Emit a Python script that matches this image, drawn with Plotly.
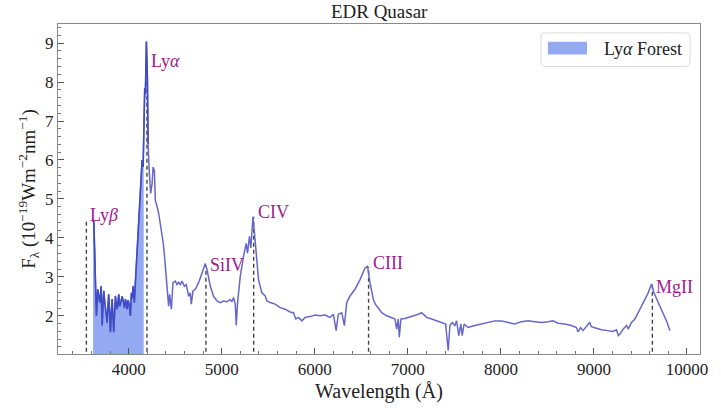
import plotly.graph_objects as go

# Observed-frame spectrum of the quasar (wavelength in Å, flux in 1e-19 W m^-2 nm^-1)
wavelength = [
    3617, 3625, 3643, 3653, 3667, 3680, 3689, 3704, 3715, 3724, 3732, 3741,
    3750, 3768, 3776, 3785, 3795, 3804, 3813, 3822, 3839, 3848, 3857, 3866,
    3876, 3893, 3902, 3911, 3920, 3929, 3946, 3955, 3965, 3983, 3992, 4000,
    4009, 4018, 4029, 4038, 4047, 4061, 4068, 4075, 4090, 4100, 4107, 4117,
    4126, 4136, 4144, 4155, 4161, 4172, 4179, 4190, 4201, 4208, 4222, 4236,
    4251, 4262, 4276, 4286, 4300, 4322, 4340, 4358, 4372, 4386, 4400, 4412,
    4429, 4440, 4458, 4476, 4501, 4519, 4537, 4555, 4573, 4598, 4619, 4644,
    4662, 4673, 4691, 4716, 4751, 4788, 4823, 4841, 4877, 4912, 4949, 4984,
    5019, 5056, 5091, 5109, 5127, 5145, 5156, 5170, 5199, 5234, 5263, 5277,
    5298, 5313, 5335, 5349, 5370, 5395, 5431, 5467, 5485, 5520, 5574, 5628,
    5681, 5735, 5770, 5796, 5824, 5861, 5896, 5950, 6003, 6057, 6111, 6164,
    6200, 6229, 6253, 6290, 6318, 6343, 6379, 6432, 6486, 6540, 6567, 6593,
    6629, 6650, 6683, 6719, 6773, 6826, 6862, 6880, 6897, 6908, 6926, 6969,
    7041, 7112, 7148, 7202, 7256, 7309, 7363, 7406, 7434, 7452, 7477, 7505,
    7524, 7548, 7570, 7584, 7605, 7648, 7720, 7792, 7863, 7935, 8007, 8077,
    8149, 8221, 8292, 8364, 8436, 8507, 8560, 8614, 8686, 8758, 8811, 8829,
    8857, 8882, 8919, 8954, 8972, 9026, 9080, 9150, 9200, 9243, 9262, 9279,
    9315, 9351, 9368, 9404, 9440, 9476, 9512, 9548, 9583, 9609, 9622, 9645,
    9691, 9727, 9763, 9787, 9816,
]
flux = [
    4.40, 4.46, 2.85, 2.00, 2.68, 2.45, 2.34, 2.76, 1.75, 2.30, 2.64, 2.40,
    2.17, 1.83, 2.20, 2.55, 2.05, 1.58, 2.10, 2.43, 1.58, 2.00, 2.51, 2.30,
    2.17, 2.55, 2.25, 2.30, 2.45, 2.50, 2.34, 2.20, 2.43, 2.17, 2.40, 2.34,
    2.20, 2.00, 2.59, 2.45, 2.76, 2.34, 2.70, 3.00, 3.75, 4.20, 4.63, 5.00,
    5.30, 5.70, 6.00, 5.82, 7.17, 7.85, 7.68, 9.04, 8.10, 6.41, 5.65, 5.14,
    5.39, 5.82, 5.73, 4.97, 4.85, 4.63, 4.35, 4.12, 3.85, 3.50, 3.02, 2.69,
    2.25, 2.55, 2.17, 2.85, 2.89, 2.80, 2.86, 2.80, 2.89, 2.76, 2.80, 2.50,
    2.59, 2.30, 2.64, 2.68, 2.85, 3.10, 3.34, 3.19, 2.76, 2.50, 2.38, 2.34,
    2.38, 2.36, 2.42, 2.36, 2.47, 2.30, 1.75, 2.34, 3.02, 3.53, 3.86, 3.61,
    4.04, 3.74, 4.54, 4.20, 3.53, 2.93, 2.59, 2.51, 2.38, 2.34, 2.30, 2.21,
    2.17, 2.10, 2.08, 1.92, 1.96, 1.87, 1.96, 1.98, 2.02, 2.00, 2.02, 1.96,
    2.04, 1.62, 2.04, 2.08, 1.75, 2.34, 2.51, 2.68, 2.93, 3.23, 3.27, 2.85,
    2.42, 2.30, 2.20, 2.08, 2.00, 1.96, 1.92, 1.66, 1.92, 1.45, 1.92, 1.93,
    1.98, 2.04, 2.08, 1.96, 1.92, 1.87, 1.83, 1.79, 1.11, 1.75, 1.83, 1.75,
    1.87, 1.49, 1.79, 1.49, 1.79, 1.70, 1.75, 1.79, 1.83, 1.87, 1.87, 1.83,
    1.79, 1.85, 1.87, 1.85, 1.83, 1.85, 1.87, 1.81, 1.79, 1.75, 1.70, 1.59,
    1.70, 1.62, 1.73, 1.83, 1.72, 1.68, 1.64, 1.62, 1.60, 1.64, 1.49, 1.53,
    1.66, 1.75, 1.66, 1.83, 1.92, 2.08, 2.25, 2.42, 2.59, 2.76, 2.81, 2.59,
    2.34, 2.13, 1.92, 1.83, 1.62,
]

# Lyman-alpha forest window (Å)
forest_range = [3617, 4161]
forest_label = "Ly<i>α</i> Forest"

# Emission lines: marker position and height of the dashed guide
line_names = ["Ly<i>β</i>", "Ly<i>α</i>", "SiIV", "CIV", "CIII", "MgII"]
line_wavelength = [3545, 4196, 4830, 5343, 6578, 9628]
line_top = [4.44, 8.44, 3.15, 4.54, 3.25, 2.81]
label_flux = [4.58, 8.54, 3.31, 4.66, 3.36, 2.75]

x_ticks = [4000, 5000, 6000, 7000, 8000, 9000, 10000]
y_ticks = [2, 3, 4, 5, 6, 7, 8, 9]

SERIF = "Liberation Serif"
TEXT = "#222222"
LINE_COLOR = "#6668c9"
FOREST_LINE = "#3d4bc6"
FOREST_FILL = "#93a9f2"
LABEL_COLOR = "#a0208f"

fig = go.Figure()

forest_x = [w for w in wavelength if forest_range[0] <= w <= forest_range[1]]
forest_y = [f for w, f in zip(wavelength, flux) if forest_range[0] <= w <= forest_range[1]]

# shaded forest region
fig.add_trace(go.Scatter(
    x=forest_x, y=forest_y, mode="lines", fill="tozeroy",
    fillcolor=FOREST_FILL, line=dict(width=0, color=FOREST_FILL),
    name=forest_label, showlegend=False, hoverinfo="skip",
))

# dashed guides at the emission lines
for lw, top in zip(line_wavelength, line_top):
    fig.add_trace(go.Scatter(
        x=[lw, lw], y=[0, top], mode="lines",
        line=dict(color="#444444", width=1.4, dash="4px,3px"),
        showlegend=False, hoverinfo="skip",
    ))

# full spectrum
fig.add_trace(go.Scatter(
    x=wavelength, y=flux, mode="lines",
    line=dict(color=LINE_COLOR, width=1.5), showlegend=False,
))

# darker trace across the forest and the Ly-alpha peak
dark_x = [w for w in wavelength if w <= 4210]
dark_y = [f for w, f in zip(wavelength, flux) if w <= 4210]
fig.add_trace(go.Scatter(
    x=dark_x, y=dark_y, mode="lines",
    line=dict(color=FOREST_LINE, width=1.5), showlegend=False,
))

for name, lw, ly in zip(line_names, line_wavelength, label_flux):
    fig.add_annotation(
        x=lw, y=ly, text=name, showarrow=False, xanchor="left", yanchor="middle",
        xshift=2, font=dict(family=SERIF, size=18, color=LABEL_COLOR),
    )

# legend box with rounded corners, swatch and label (paper coordinates)
bx0, bx1, by0, by1 = 0.7523, 0.9844, 0.8713, 0.9731
rx, ry = 0.0065, 0.0125
box_path = (
    f"M{bx0 + rx},{by1} L{bx1 - rx},{by1} Q{bx1},{by1} {bx1},{by1 - ry} "
    f"L{bx1},{by0 + ry} Q{bx1},{by0} {bx1 - rx},{by0} "
    f"L{bx0 + rx},{by0} Q{bx0},{by0} {bx0},{by0 + ry} "
    f"L{bx0},{by1 - ry} Q{bx0},{by1} {bx0 + rx},{by1} Z"
)
fig.add_shape(type="path", path=box_path, xref="paper", yref="paper",
              line=dict(color="#dcdcdc", width=1), fillcolor="white", layer="above")
fig.add_shape(type="rect", xref="paper", yref="paper",
              x0=0.7632, x1=0.8240, y0=0.9072, y1=0.9461,
              line=dict(width=0), fillcolor=FOREST_FILL, layer="above")
fig.add_annotation(x=0.8474, y=0.9251, xref="paper", yref="paper", text=forest_label,
                   showarrow=False, xanchor="left", yanchor="middle",
                   font=dict(family=SERIF, size=18, color=TEXT))

fig.update_layout(
    width=721, height=410,
    margin=dict(l=58, r=21, t=24, b=52),
    paper_bgcolor="white", plot_bgcolor="white",
    font=dict(family=SERIF, size=17, color=TEXT),
    title=dict(text="EDR Quasar", x=0.5259, xanchor="center", y=0.973, yanchor="middle",
               font=dict(family=SERIF, size=19, color=TEXT)),
    showlegend=False,
)

fig.update_xaxes(
    range=[3240, 10140], tickvals=x_ticks, ticktext=[str(t) for t in x_ticks],
    showgrid=False, zeroline=False, showline=True, linecolor="#8a8a8a", linewidth=1,
    mirror=True, ticks="inside", ticklen=6, tickcolor="#555555",
    tickfont=dict(family=SERIF, size=17, color=TEXT),
    minor=dict(dtick=200, tick0=0, ticks="inside", ticklen=3, tickcolor="#777777"),
    title=dict(text="Wavelength (Å)", font=dict(family=SERIF, size=20, color=TEXT), standoff=5),
)
fig.update_yaxes(
    range=[1.02, 9.49], tickvals=y_ticks, ticktext=[str(t) for t in y_ticks],
    showgrid=False, zeroline=False, showline=True, linecolor="#8a8a8a", linewidth=1,
    mirror=True, ticks="inside", ticklen=6, tickcolor="#555555",
    tickfont=dict(family=SERIF, size=17, color=TEXT),
    minor=dict(dtick=0.2, tick0=0, ticks="inside", ticklen=3, tickcolor="#777777"),
    title=dict(text="F<sub>λ</sub> (10<sup>−19</sup>Wm<sup>−2</sup>nm<sup>−1</sup>)",
               font=dict(family=SERIF, size=19, color=TEXT), standoff=4),
)

fig.write_html("out.html")
